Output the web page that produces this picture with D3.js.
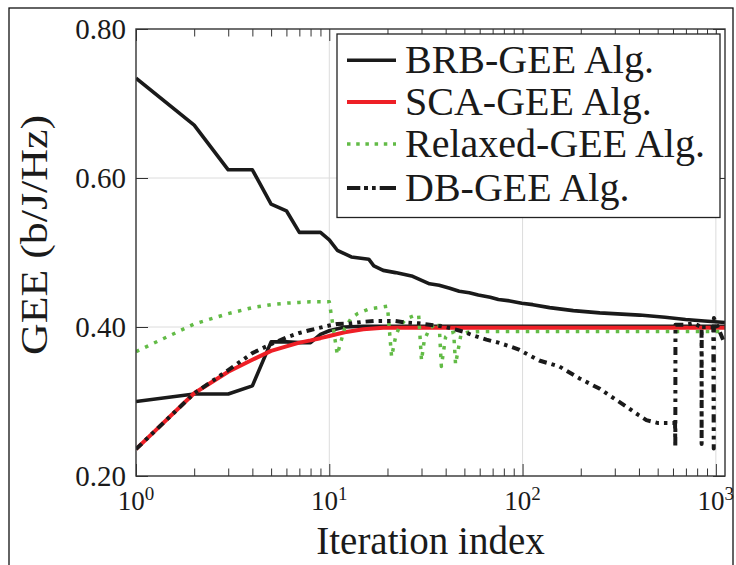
<!DOCTYPE html>
<html><head><meta charset="utf-8">
<script src="https://cdn.jsdelivr.net/npm/d3@7"></script>
<style>
body{margin:0;background:#fff}
svg{display:block}
text{font-family:"Liberation Serif","Times New Roman",serif;fill:#1a1a1a}
</style>
</head><body>
<svg id="c" width="736" height="565"></svg>
<script>
// ---------------- data ----------------
const brbUpperIter = [1,2,3,4,5,6,7,9,10,11,13,16,17,19,22,27,33,37,42,47,53,59,68,75,86,99,113,138,183,251,403,546,697,872,1115];
const brbUpperVal  = [0.734,0.671,0.611,0.611,0.565,0.556,0.527,0.527,0.517,0.503,0.494,0.491,0.482,0.476,0.473,0.468,0.458,0.456,0.452,0.448,0.446,0.443,0.440,0.437,0.435,0.432,0.430,0.426,0.422,0.419,0.416,0.413,0.410,0.408,0.406];

const brbLowerIter = [1,2,3,4,5,6,7,8,9,10,12,15,20,50,100,1115];
const brbLowerVal  = [0.300,0.310,0.310,0.321,0.380,0.380,0.379,0.379,0.390,0.395,0.400,0.401,0.401,0.401,0.401,0.401];

const scaIter = [1,2,3,4,5,6,7,8,9,10,12,15,19,30,100,1115];
const scaVal  = [0.236,0.311,0.340,0.356,0.368,0.374,0.379,0.382,0.385,0.388,0.393,0.397,0.399,0.399,0.399,0.399];

const relaxedIter = [1,2,3,4,5,6,7,8,9,10,11,12,13,14,16,18,20,21,22,23,25,28,29,30,31,33,36,37,38,40,42,44,45,48,52,60,1115];
const relaxedVal  = [0.367,0.404,0.418,0.426,0.430,0.432,0.433,0.434,0.434,0.434,0.363,0.398,0.412,0.418,0.424,0.426,0.428,0.360,0.386,0.400,0.411,0.416,0.416,0.355,0.382,0.398,0.405,0.405,0.347,0.387,0.392,0.393,0.350,0.390,0.393,0.394,0.394];

const dbIter = [1,2,3,4,5,6,7,8,10,11,13,15,17,19,22,25,29,33,38,43,49,55,65,75,86,95,122,155,197,251,282,345,397,437,503,578,615,617,618,700,765,843,844,845,970,975,977,1090];
const dbVal  = [0.236,0.311,0.342,0.365,0.377,0.386,0.392,0.396,0.402,0.404,0.405,0.407,0.408,0.408,0.408,0.406,0.405,0.403,0.401,0.398,0.394,0.389,0.383,0.379,0.374,0.370,0.355,0.347,0.331,0.317,0.308,0.293,0.282,0.275,0.271,0.271,0.271,0.238,0.403,0.403,0.405,0.400,0.243,0.400,0.400,0.237,0.412,0.383];

const xMajorTicks = [1,10,100,1000];
const xTickBase = "10";
const xTickExp = ["0","1","2","3"];
const xMinorTicks = [2,3,4,5,6,7,8,9,20,30,40,50,60,70,80,90,200,300,400,500,600,700,800,900];
const yTicks = [0.2,0.4,0.6,0.8];
const yTickLabels = ["0.20","0.40","0.60","0.80"];
const legendLabels = ["BRB-GEE Alg.","SCA-GEE Alg.","Relaxed-GEE Alg.","DB-GEE Alg."];

// ---------------- layout ----------------
const L=136, R=725, T=29, B=476;
const svg = d3.select("#c");
const x = d3.scaleLog().domain([1,1115]).range([L,R]);
const y = d3.scaleLinear().domain([0.2,0.8]).range([B,T]);

// outer frame
svg.append("rect").attr("x",9).attr("y",8).attr("width",724).attr("height",620)
  .attr("fill","none").attr("stroke","#111").attr("stroke-width",1.3);

// grid
const grid = svg.append("g").attr("stroke","#dcdcdc").attr("stroke-width",1);
grid.selectAll("line.gx").data([10,100,1000]).join("line")
  .attr("x1",d=>x(d)).attr("x2",d=>x(d)).attr("y1",T).attr("y2",B);
grid.selectAll("line.gy").data([0.4,0.6]).join("line")
  .attr("x1",L).attr("x2",R).attr("y1",d=>y(d)).attr("y2",d=>y(d));

// axes ticks (inside) using d3 axes
function styleAxis(g){ g.select(".domain").remove(); g.selectAll("line").attr("stroke","#333").attr("stroke-width",1); g.selectAll("text").remove(); }
svg.append("g").attr("transform",`translate(0,${B})`).call(d3.axisBottom(x).tickValues(xMajorTicks).tickSize(-12).tickFormat("")).call(styleAxis);
svg.append("g").attr("transform",`translate(0,${B})`).call(d3.axisBottom(x).tickValues(xMinorTicks).tickSize(-7.5).tickFormat("")).call(styleAxis);
svg.append("g").attr("transform",`translate(0,${T})`).call(d3.axisTop(x).tickValues(xMajorTicks).tickSize(-12).tickFormat("")).call(styleAxis);
svg.append("g").attr("transform",`translate(0,${T})`).call(d3.axisTop(x).tickValues(xMinorTicks).tickSize(-7.5).tickFormat("")).call(styleAxis);
svg.append("g").attr("transform",`translate(${L},0)`).call(d3.axisLeft(y).tickValues(yTicks).tickSize(-12).tickFormat("")).call(styleAxis);
svg.append("g").attr("transform",`translate(${R},0)`).call(d3.axisRight(y).tickValues(yTicks).tickSize(-12).tickFormat("")).call(styleAxis);

// curves
svg.append("defs").append("clipPath").attr("id","clip").append("rect")
  .attr("x",L).attr("y",T).attr("width",R-L).attr("height",B-T);
const plot = svg.append("g").attr("clip-path","url(#clip)");
const line = d3.line().x(d=>x(d[0])).y(d=>y(d[1]));
const zip = (a,b)=>a.map((v,i)=>[v,b[i]]);
function draw(data, color, w, dash){
  plot.append("path").datum(data).attr("d",line).attr("fill","none")
    .attr("stroke",color).attr("stroke-width",w).attr("stroke-linejoin","round")
    .attr("stroke-dasharray",dash||null);
}
const BLACK="#1a1a1a", RED="#ee1f26", GREEN="#62bb46";
draw(zip(brbUpperIter,brbUpperVal), BLACK, 3.6);
draw(zip(brbLowerIter,brbLowerVal), BLACK, 3.6);
draw(zip(scaIter,scaVal), RED, 4);
draw(zip(relaxedIter,relaxedVal), GREEN, 3.5, "3.5 6.5");
draw(zip(dbIter,dbVal), BLACK, 4, "8 5 3.5 5 3.5 5");

// plot frame
svg.append("rect").attr("x",L).attr("y",T).attr("width",R-L).attr("height",B-T)
  .attr("fill","none").attr("stroke","#333").attr("stroke-width",1.4);

// tick labels
svg.selectAll("text.yt").data(yTicks).join("text")
  .attr("x",126).attr("y",d=>y(d)).attr("dy","0.36em").attr("text-anchor","end")
  .attr("font-size",29).text((d,i)=>yTickLabels[i]);
const xt = svg.selectAll("text.xt").data(xMajorTicks).join("text")
  .attr("x",d=>x(d)).attr("y",510).attr("text-anchor","middle").attr("font-size",27);
xt.append("tspan").text(xTickBase);
xt.append("tspan").attr("font-size",19).attr("dy",-10).text((d,i)=>xTickExp[i]);

// axis labels
svg.append("text").attr("x",(L+R)/2).attr("y",554).attr("text-anchor","middle")
  .attr("font-size",39).text("Iteration index");
svg.append("text").attr("transform","translate(47,235) rotate(-90)").attr("text-anchor","middle")
  .attr("font-size",38).attr("textLength",240).attr("lengthAdjust","spacingAndGlyphs").text("GEE (b/J/Hz)");

// legend
const lg = svg.append("g");
lg.append("rect").attr("x",337).attr("y",34).attr("width",383).attr("height",183.5)
  .attr("fill","#fff").attr("stroke","#222").attr("stroke-width",1.3);
const legStyles = [
  {c:BLACK,w:3.6,d:null},
  {c:RED,w:4,d:null},
  {c:GREEN,w:3.5,d:"3.5 5.7"},
  {c:BLACK,w:4,d:"13.3 3.7 4 4 3.7 4 20"}
];
const legBase = [73.3,115,157,201];
legendLabels.forEach((t,i)=>{
  const s = legStyles[i];
  lg.append("line").attr("x1",347).attr("x2",396).attr("y1",legBase[i]-13).attr("y2",legBase[i]-13)
    .attr("stroke",s.c).attr("stroke-width",s.w).attr("stroke-dasharray",s.d);
  lg.append("text").attr("x",405).attr("y",legBase[i]).attr("font-size",40).text(t);
});
</script>
</body></html>
